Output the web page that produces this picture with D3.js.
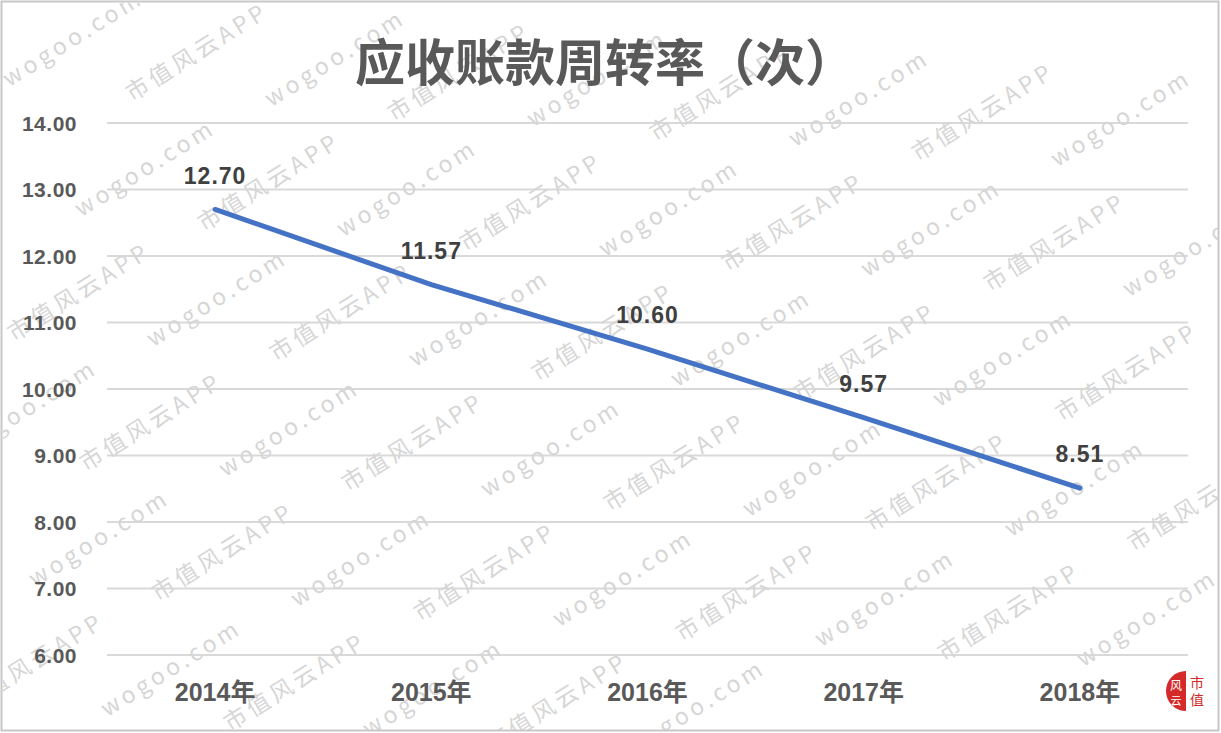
<!DOCTYPE html>
<html>
<head>
<meta charset="utf-8">
<script src="https://cdn.jsdelivr.net/npm/d3@7"></script>
<style>
  body { margin: 0; background: #fff; }
  svg { display: block; }
</style>
</head>
<body>
<div id="graph"></div>
<script>
// data
var years = ['2014年', '2015年', '2016年', '2017年', '2018年'];
var turnover = [12.70, 11.57, 10.60, 9.57, 8.51];
var yTicks = [6, 7, 8, 9, 10, 11, 12, 13, 14];
var title = '应收账款周转率（次）';
var marks = ['wogoo.com', '市值风云APP'];

var width = 1221,
    height = 733;

var svg = d3.select('#graph')
    .append('svg')
    .attr('width', width)
    .attr('height', height);

svg.append('rect')
    .attr('x', 0).attr('y', 0)
    .attr('width', width).attr('height', height)
    .attr('fill', '#fff');

var x = d3.scaleBand()
    .domain(years)
    .range([107, 1188]);

var y = d3.scaleLinear()
    .domain([6, 14])
    .range([655, 123]);

// grid lines
svg.append('g')
    .selectAll('line')
    .data(yTicks)
    .enter()
    .append('line')
    .attr('x1', 107)
    .attr('x2', 1188)
    .attr('y1', d => y(d))
    .attr('y2', d => y(d))
    .attr('stroke', '#d9d9d9')
    .attr('stroke-width', 2);

// watermark, drawn under everything else
svg.append('clipPath')
    .attr('id', 'page')
    .append('rect')
    .attr('x', 3).attr('y', 3)
    .attr('width', width - 6).attr('height', height - 6);

var wm = svg.append('g')
    .attr('clip-path', 'url(#page)')
    .attr('fill', '#d6d6d6')
    .attr('font-family', '"Noto Sans CJK SC", sans-serif')
    .attr('font-size', '23px')
    .attr('letter-spacing', '4px');

for (var i = -3; i < 7; i++) {
  for (var j = -2; j < 8; j++) {
    var px = 73 + i * 262 + j * 72,
        py = 38 + i * 20 + j * 130;
    [[px, py, marks[0]], [px + 124, py + 14, marks[1]]].forEach(function(m) {
      // keep only marks whose middle lies on the page
      if (m[0] < 20 || m[0] > width - 20 || m[1] < 15 || m[1] > height - 15) return;
      wm.append('text')
          .attr('transform', 'translate(' + m[0] + ',' + m[1] + ') rotate(-32)')
          .attr('text-anchor', 'middle')
          .attr('dy', '0.35em')
          .text(m[2]);
    });
  }
}

// y labels
svg.append('g')
    .selectAll('text')
    .data(yTicks)
    .enter()
    .append('text')
    .attr('x', 77)
    .attr('y', d => y(d))
    .attr('dy', '0.36em')
    .attr('text-anchor', 'end')
    .attr('font-family', 'Liberation Sans, Arial, sans-serif')
    .attr('font-weight', 'bold')
    .attr('font-size', '21px')
    .attr('letter-spacing', '0.5px')
    .attr('fill', '#595959')
    .text(d => d.toFixed(2));

// x labels
svg.append('g')
    .selectAll('text')
    .data(years)
    .enter()
    .append('text')
    .attr('x', d => x(d) + x.bandwidth() / 2)
    .attr('y', 701)
    .attr('text-anchor', 'middle')
    .attr('font-family', 'Liberation Sans, "Noto Sans CJK SC", sans-serif')
    .attr('font-weight', 'bold')
    .attr('font-size', '25px')
    .attr('fill', '#595959')
    .text(d => d);

// title
svg.append('text')
    .attr('x', 605)
    .attr('y', 81)
    .attr('text-anchor', 'middle')
    .attr('font-family', '"Noto Sans CJK SC", sans-serif')
    .attr('font-weight', 'bold')
    .attr('font-size', '50px')
    .attr('fill', '#595959')
    .text(title);

// the line
var line = d3.line()
    .x((d, i) => x(years[i]) + x.bandwidth() / 2)
    .y(d => y(d));

svg.append('path')
    .datum(turnover)
    .attr('d', line)
    .attr('fill', 'none')
    .attr('stroke', '#4472c4')
    .attr('stroke-width', 5)
    .attr('stroke-linecap', 'round');

// data labels
svg.append('g')
    .selectAll('text')
    .data(turnover)
    .enter()
    .append('text')
    .attr('x', (d, i) => x(years[i]) + x.bandwidth() / 2)
    .attr('y', d => y(d) - 34)
    .attr('dy', '0.36em')
    .attr('text-anchor', 'middle')
    .attr('font-family', 'Liberation Sans, Arial, sans-serif')
    .attr('font-weight', 'bold')
    .attr('font-size', '23px')
    .attr('letter-spacing', '1px')
    .attr('fill', '#404040')
    .text(d => d.toFixed(2));

// logo bottom right
var logo = svg.append('g').attr('transform', 'translate(1186,691)');
logo.append('path')
    .attr('d', d3.arc()({innerRadius: 0, outerRadius: 20, startAngle: Math.PI, endAngle: 2 * Math.PI}))
    .attr('fill', '#d42a2a');
logo.append('text')
    .attr('x', -10).attr('y', -1)
    .attr('text-anchor', 'middle')
    .attr('font-family', '"Noto Sans CJK SC", sans-serif')
    .attr('font-size', '12px')
    .attr('fill', '#fff')
    .text('风');
logo.append('text')
    .attr('x', -10).attr('y', 14)
    .attr('text-anchor', 'middle')
    .attr('font-family', '"Noto Sans CJK SC", sans-serif')
    .attr('font-size', '11px')
    .attr('fill', '#fff')
    .text('云');
logo.append('text')
    .attr('x', 11).attr('y', -3)
    .attr('text-anchor', 'middle')
    .attr('font-family', '"Noto Sans CJK SC", sans-serif')
    .attr('font-size', '14px')
    .attr('fill', '#d42a2a')
    .text('市');
logo.append('text')
    .attr('x', 11).attr('y', 14)
    .attr('text-anchor', 'middle')
    .attr('font-family', '"Noto Sans CJK SC", sans-serif')
    .attr('font-size', '14px')
    .attr('fill', '#d42a2a')
    .text('值');

// frame
svg.append('rect')
    .attr('x', 1.5).attr('y', 1.5)
    .attr('width', width - 4).attr('height', height - 4)
    .attr('fill', 'none')
    .attr('stroke', '#c8c8c8')
    .attr('stroke-width', 2);
</script>
</body>
</html>
